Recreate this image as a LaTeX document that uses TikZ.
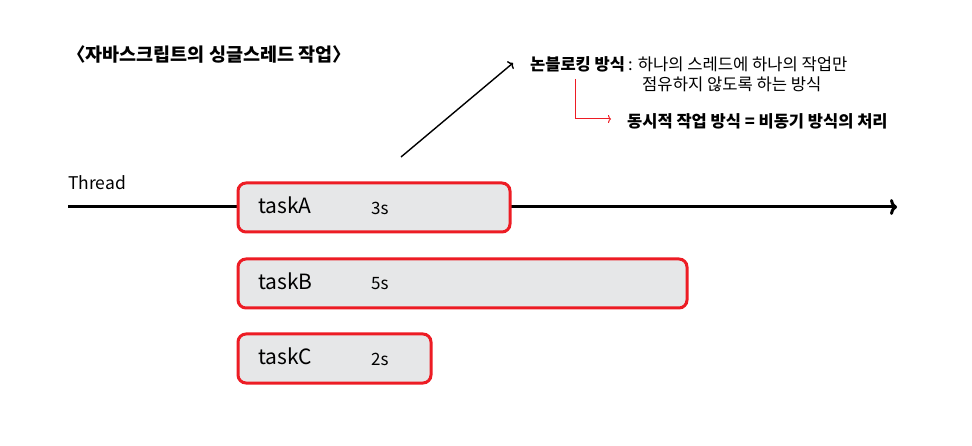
\documentclass[tikz,border=0pt]{standalone}
\usepackage{fontspec}
\setmainfont{Noto Sans CJK KR}
\usetikzlibrary{positioning,arrows.meta}

\definecolor{taskred}{HTML}{ED1C24}
\definecolor{taskgray}{HTML}{E6E7E8}

\tikzset{
  taskbox/.style={draw=taskred, line width=3pt, fill=taskgray, rounded corners=8pt,
    minimum height=49pt, anchor=north west, inner sep=0pt},
  taskname/.style={anchor=west, inner sep=0pt, font=\fontsize{21}{21}\selectfont},
  tasktime/.style={anchor=west, inner sep=0pt, font=\fontsize{17}{17}\selectfont},
  note/.style={anchor=west, inner sep=0pt, font=\fontsize{16.6}{16.6}\selectfont}
}

\begin{document}
\begin{tikzpicture}[x=1pt, y=-1pt]

\useasboundingbox (0,0) rectangle (972,446);

%% Title
\node [anchor=west, inner sep=0pt, font=\bfseries\fontsize{18.5}{18.5}\selectfont] (title) at (67,54) {〈자바스크립트의 싱글스레드 작업〉};

%% Thread line
\node [anchor=west, inner sep=0pt, font=\fontsize{17.5}{17.5}\selectfont] (thread) at (68,183) {Thread};
\coordinate (tstart) at (68,207);
\coordinate (tend) at (897,207);
\draw [line width=3pt, -{To[length=7pt, width=16pt]}] (tstart) -- (tend);

%% Tasks
\node [taskbox, minimum width=272pt] (taskA) at (236.5,181.5) {};
\node [taskname] (nameA) at (258,205) {taskA};
\node [tasktime] (timeA) at (371,208) {3s};

\node [taskbox, minimum width=449pt] (taskB) at (236.5,257.5) {};
\node [taskname] (nameB) at (258,281) {taskB};
\node [tasktime] (timeB) at (371,284) {5s};

\node [taskbox, minimum width=193pt] (taskC) at (236.5,332.5) {};
\node [taskname] (nameC) at (258,356) {taskC};
\node [tasktime] (timeC) at (371,359) {2s};

%% Non-blocking note
\node [note, font=\bfseries\fontsize{16.5}{16.5}\selectfont] (nonblock) at (530,64) {논블로킹 방식};
\node [note] (desc1) at (628,64) {: 하나의 스레드에 하나의 작업만};
\node [note] (desc2) at (642,84) {점유하지 않도록 하는 방식};
\node [note, font=\bfseries\fontsize{16.5}{16.5}\selectfont] (async) at (627,121) {동시적 작업 방식 = 비동기 방식의 처리};

\coordinate (from) at (401,157);
\draw [line width=1.4pt, -{To[length=4pt, width=10pt]}] (from) -- ([xshift=-17pt,yshift=1pt]nonblock.west);

\coordinate (bend) at (575,79);
\draw [taskred, line width=1pt, -{To[length=3pt, width=8pt]}] (bend) |- ([xshift=-16pt,yshift=2pt]async.west);

\end{tikzpicture}
\end{document}
